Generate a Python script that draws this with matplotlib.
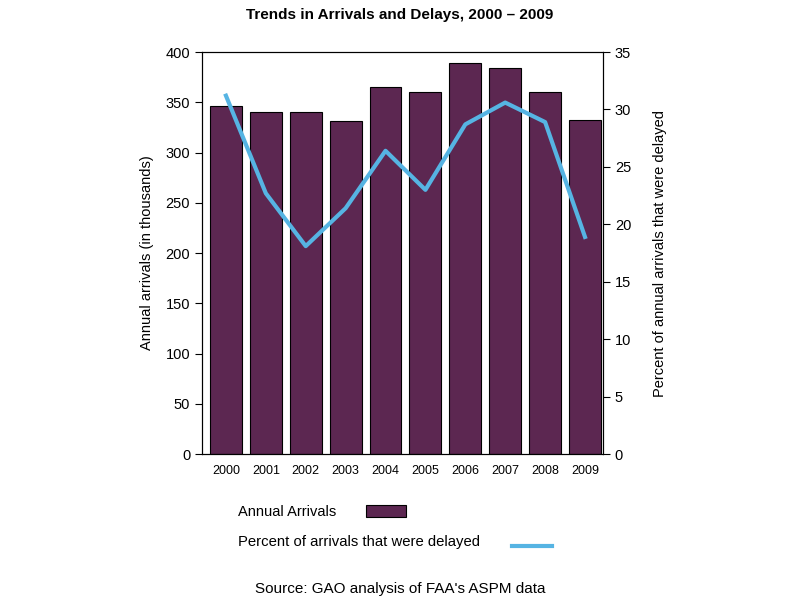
import matplotlib
matplotlib.use("Agg")
import matplotlib.pyplot as plt
from matplotlib.patches import Rectangle
from matplotlib.lines import Line2D

plt.rcParams['font.family'] = ['Liberation Sans', 'DejaVu Sans']

years = ['2000', '2001', '2002', '2003', '2004', '2005', '2006', '2007', '2008', '2009']
arrivals = [346, 340, 340, 331, 365, 360, 389, 384, 360, 332]
pct_delayed = [31.2, 22.7, 18.1, 21.4, 26.4, 23.0, 28.7, 30.6, 28.9, 18.9]

bar_color = '#5c2751'
line_color = '#56b4e3'

fig = plt.figure(figsize=(8, 6), dpi=100)
ax = fig.add_axes([0.2525, 0.2433, 0.5012, 0.67])
x = list(range(len(years)))
ax.bar(x, arrivals, width=0.8, color=bar_color, edgecolor='black', linewidth=0.8)
ax.set_xlim(-0.6, 9.45)
ax.set_ylim(0, 400)
ax.set_yticks(range(0, 401, 50))
ax.set_xticks(x)
ax.set_xticklabels(years)
ax.tick_params(axis='x', length=0, pad=8, labelsize=9)
ax.tick_params(axis='y', direction='out', length=5, labelsize=10.5)
ax.set_ylabel('Annual arrivals (in thousands)', fontsize=10.5, labelpad=8)

ax2 = ax.twinx()
ax2.plot(x, pct_delayed, color=line_color, linewidth=3)
ax2.set_ylim(0, 35)
ax2.set_yticks(range(0, 36, 5))
ax2.tick_params(axis='y', direction='out', length=5, labelsize=10.5)
ax2.set_ylabel('Percent of annual arrivals that were delayed', fontsize=10.5, labelpad=16)
ax2.set_xlim(-0.6, 9.45)

fig.text(0.5, 0.975, 'Trends in Arrivals and Delays, 2000 \u2013 2009',
         ha='center', va='center', fontsize=11, fontweight='bold')

# legend drawn by hand to match layout
fig.text(0.2975, 0.1467, 'Annual Arrivals', ha='left', va='center', fontsize=10.5)
fig.patches.append(Rectangle((0.4575, 0.138), 0.05, 0.02, transform=fig.transFigure,
                             facecolor=bar_color, edgecolor='black', linewidth=0.8))
fig.text(0.2975, 0.0967, 'Percent of arrivals that were delayed', ha='left', va='center', fontsize=10.7)
fig.lines.append(Line2D([0.64, 0.69], [0.09, 0.09], transform=fig.transFigure,
                        color=line_color, linewidth=3))

fig.text(0.5, 0.018, "Source: GAO analysis of FAA's ASPM data", ha='center', va='center', fontsize=11)

fig.savefig('out.png', dpi=100)
